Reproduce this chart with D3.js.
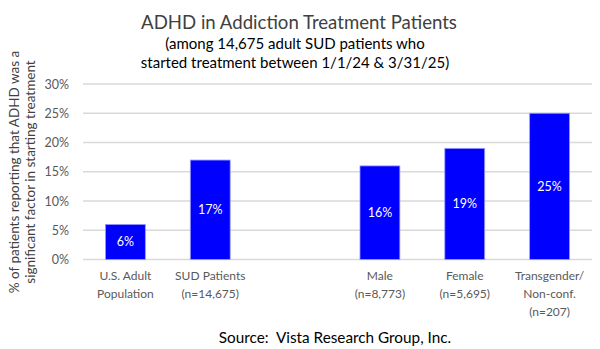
<!DOCTYPE html>
<html>
<head>
<meta charset="utf-8">
<script src="https://cdn.jsdelivr.net/npm/d3@7"></script>
<style>
  body { margin: 0; background: #fff; }
  text { font-family: Lato, "Open Sans", sans-serif; white-space: pre; }
</style>
</head>
<body>
<div id="chart"></div>
<script>
// categories (one empty slot between the two groups)
const categories = ["us", "sud", "gap", "male", "female", "trans"];
const catLabels = [
    ["U.S. Adult", "Population"],
    ["SUD Patients", "(n=14,675)"],
    [],
    ["Male", "(n=8,773)"],
    ["Female", "(n=5,695)"],
    ["Transgender/", "Non-conf.", "(n=207)"]
];
const values = [6, 17, null, 16, 19, 25];
const yTicks = [0, 5, 10, 15, 20, 25, 30];

const width = 600, height = 349;
const margin = { top: 84, right: 8, bottom: 90, left: 83 };

var svg = d3.select("#chart").append("svg")
    .attr("width", width)
    .attr("height", height);

var x = d3.scaleBand()
    .domain(categories)
    .range([margin.left, width - margin.right])
    .paddingInner(0.53)
    .paddingOuter(0.265);

var y = d3.scaleLinear()
    .domain([0, 30])
    .range([height - margin.bottom + 0.5, margin.top]);

// gridlines
svg.append("g")
    .selectAll("line")
    .data(yTicks)
    .enter()
    .append("line")
    .attr("x1", margin.left)
    .attr("x2", width - margin.right)
    .attr("y1", function(d) { return y(d); })
    .attr("y2", function(d) { return y(d); })
    .attr("stroke", "#d9d9d9")
    .attr("stroke-width", 1.5);

// y axis labels
var yAxis = svg.append("g")
    .attr("transform", "translate(" + (margin.left - 11) + ",0)")
    .call(d3.axisLeft(y).tickValues(yTicks).tickSize(0).tickFormat(function(d) { return d + "%"; }));
yAxis.select(".domain").remove();
yAxis.selectAll("text")
    .attr("fill", "#595959")
    .style("font-size", "12.5px");

// bars
var bars = categories.map(function(c, i) { return { cat: c, v: values[i] }; })
    .filter(function(d) { return d.v !== null; });

svg.append("g")
    .selectAll("rect")
    .data(bars)
    .enter()
    .append("rect")
    .attr("x", function(d) { return x(d.cat); })
    .attr("width", x.bandwidth())
    .attr("y", function(d) { return y(d.v); })
    .attr("height", function(d) { return y(0) - y(d.v); })
    .attr("fill", "#0000ff")
    .attr("stroke", "#9a9aff")
    .attr("stroke-width", 0.8);

svg.append("g")
    .selectAll("text")
    .data(bars)
    .enter()
    .append("text")
    .attr("x", function(d) { return x(d.cat) + x.bandwidth() / 2; })
    .attr("y", function(d) { return (y(0) + y(d.v)) / 2 + 4.5; })
    .attr("text-anchor", "middle")
    .attr("fill", "#ffffff")
    .style("font-size", "12.5px")
    .text(function(d) { return d.v + "%"; });

// category labels
categories.forEach(function(c, i) {
    var t = svg.append("text")
        .attr("text-anchor", "middle")
        .attr("fill", "#595959")
        .style("font-size", "12px");
    catLabels[i].forEach(function(line, j) {
        t.append("tspan")
            .attr("x", x(c) + x.bandwidth() / 2)
            .attr("y", 280 + j * 18)
            .text(line);
    });
});

// y axis title
var yTitle = svg.append("text")
    .attr("transform", "translate(0,172) rotate(-90)")
    .attr("text-anchor", "middle")
    .attr("fill", "#404040")
    .style("font-size", "13.5px");
yTitle.append("tspan").attr("x", 0).attr("y", 19).text("% of patients reporting that ADHD was a");
yTitle.append("tspan").attr("x", 0).attr("y", 35).text("significant factor in starting treatment");

// titles
svg.append("text")
    .attr("x", 299)
    .attr("y", 29)
    .attr("text-anchor", "middle")
    .attr("fill", "#404040")
    .style("font-size", "18.6px")
    .text("ADHD in Addiction Treatment Patients");
svg.append("text")
    .attr("x", 295)
    .attr("y", 49)
    .attr("text-anchor", "middle")
    .attr("fill", "#000")
    .style("font-size", "15px")
    .text("(among 14,675 adult SUD patients who");
svg.append("text")
    .attr("x", 295)
    .attr("y", 68)
    .attr("text-anchor", "middle")
    .attr("fill", "#000")
    .style("font-size", "15px")
    .text("started treatment between 1/1/24 & 3/31/25)");

svg.append("text")
    .attr("x", 335)
    .attr("y", 343)
    .attr("text-anchor", "middle")
    .attr("fill", "#000")
    .style("font-size", "15.3px")
    .text("Source:  Vista Research Group, Inc.");
</script>
</body>
</html>
